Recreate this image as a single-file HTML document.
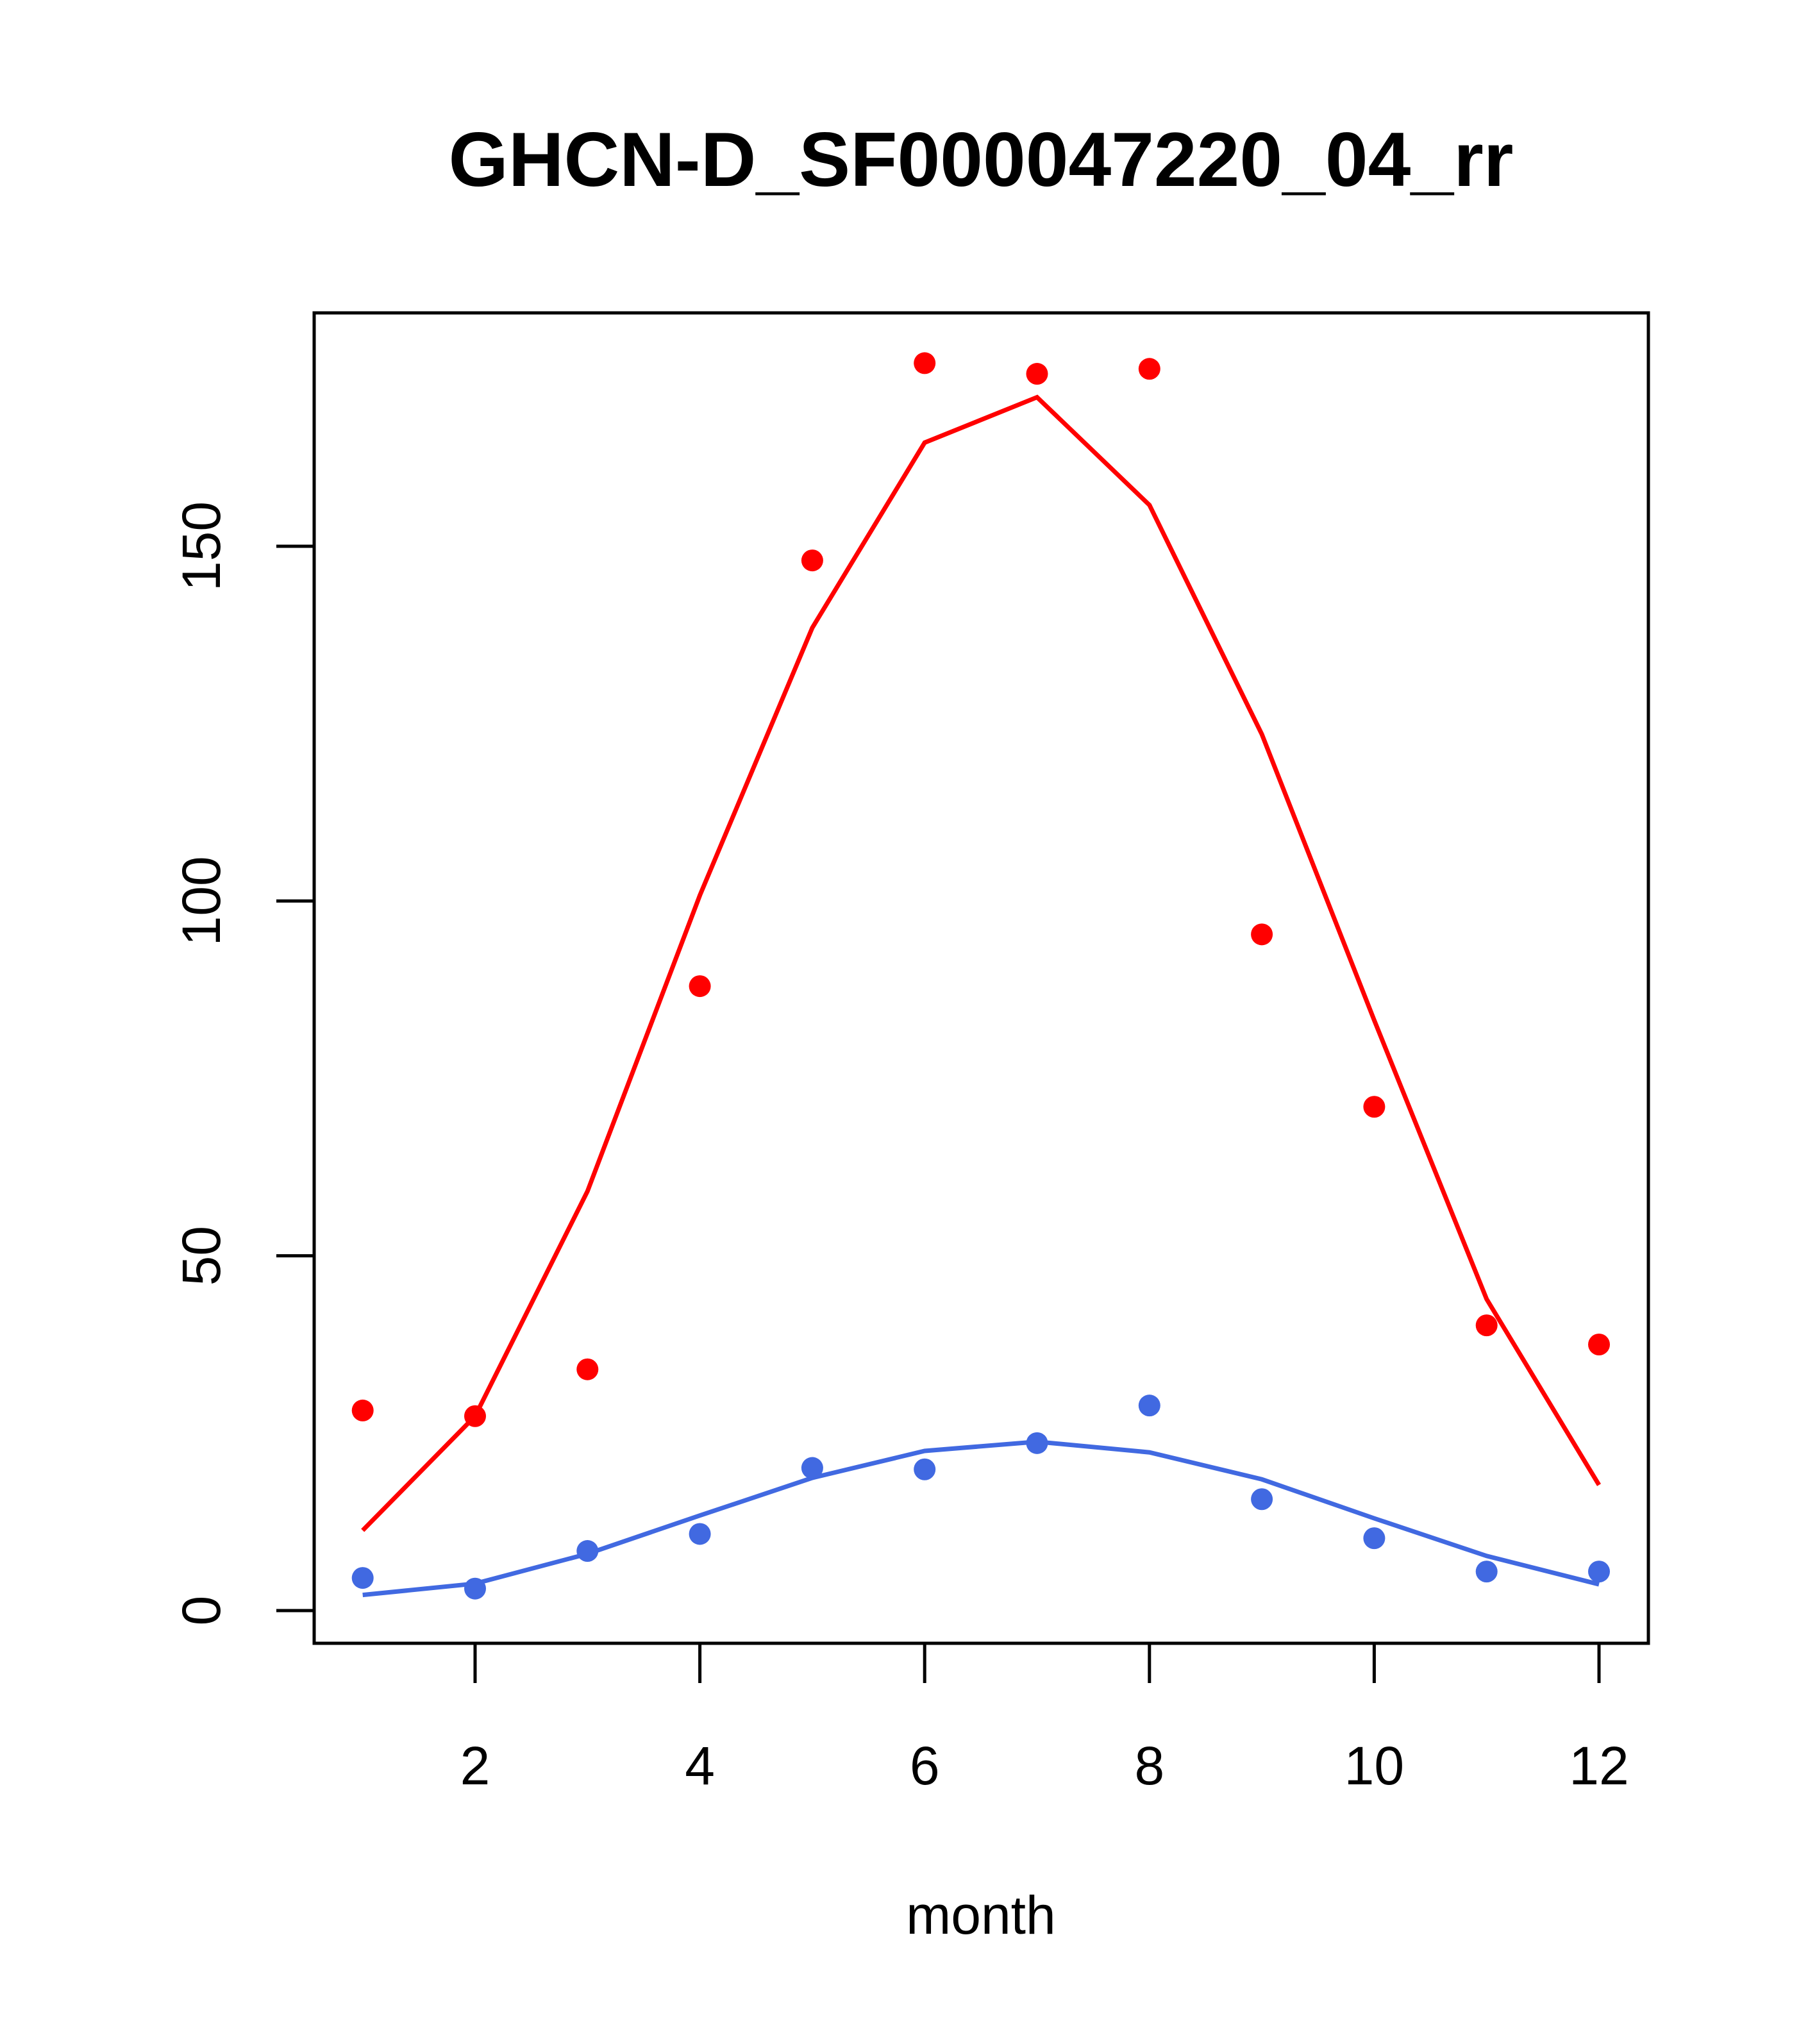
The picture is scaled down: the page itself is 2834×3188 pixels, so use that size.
<!DOCTYPE html>
<html><head><meta charset="utf-8"><style>
html,body{margin:0;padding:0;background:#fff}
svg{display:block}
text{font-family:"Liberation Sans",Arial,sans-serif}
</style></head><body>
<svg id="chart" width="2834" height="3188" viewBox="0 0 2834 3188" xmlns="http://www.w3.org/2000/svg">
<rect width="2834" height="3188" fill="#fff"/>
<text x="1530" y="290" font-size="120" font-weight="bold" text-anchor="middle">GHCN-D_SF000047220_04_rr</text>
<rect x="490" y="488" width="2081" height="2075" fill="none" stroke="#000" stroke-width="5"/>
<g id="xaxis"></g>
<g id="yaxis"></g>
<text x="1530" y="3016" font-size="84" text-anchor="middle">month</text>
<g id="series"></g>
</svg>
<script>
const months=[1,2,3,4,5,6,7,8,9,10,11,12];
const xTicks=[2,4,6,8,10,12];
const yTicks=[0,50,100,150];
const redPoints=[28.2,27.4,34.0,88.0,148.0,175.8,174.3,175.0,95.3,71.0,40.2,37.5];
const redLine=[11.3,27.4,59.1,100.8,138.5,164.6,171.0,155.8,123.5,83.2,43.9,17.7];
const bluePoints=[4.6,3.1,8.4,10.8,20.1,19.9,23.6,28.9,15.7,10.2,5.5,5.5];
const blueLine=[2.2,3.8,8.0,13.4,18.7,22.5,23.8,22.3,18.5,13.0,7.7,3.7];

const NS="http://www.w3.org/2000/svg";
function X(m){return 741+(m-2)*175.3;}
function Y(v){return 2512-v*11.067;}
function mk(tag,attrs,parent){const e=document.createElementNS(NS,tag);for(const k in attrs)e.setAttribute(k,attrs[k]);parent.appendChild(e);return e;}
const xa=document.getElementById('xaxis'),ya=document.getElementById('yaxis'),sg=document.getElementById('series');
mk('line',{x1:X(2),x2:X(12),y1:2563,y2:2563,stroke:'#000','stroke-width':5},xa);
xTicks.forEach(t=>{
  const l=mk('line',{x1:X(t),x2:X(t),y1:2563,y2:2625,stroke:'#000','stroke-width':5},xa);
  
  
  const tx=mk('text',{x:X(t),y:2783,'font-size':84,'text-anchor':'middle'},xa);
  tx.textContent=t;
  
  
});
mk('line',{x1:490,x2:490,y1:Y(0),y2:Y(150),stroke:'#000','stroke-width':5},ya);
yTicks.forEach(t=>{
  const l=mk('line',{x1:431,x2:490,y1:Y(t),y2:Y(t),stroke:'#000','stroke-width':5},ya);
  
  
  const tx=mk('text',{x:0,y:0,'font-size':84,'text-anchor':'middle',transform:`translate(343,${Y(t)}) rotate(-90)`},ya);
  tx.textContent=t;
  
  
});
function series(line,pts,color,name){
  const p=mk('polyline',{points:line.map((v,i)=>X(months[i])+','+Y(v)).join(' '),fill:'none',stroke:color,'stroke-width':7},sg);
  
  
  pts.forEach((v,i)=>{
    const c=mk('circle',{cx:X(months[i]),cy:Y(v),r:17,fill:color},sg);
    
    
  });
}
series(redLine,redPoints,'#ff0000','red');
series(blueLine,bluePoints,'#4169e1','blue');
</script>
</body></html>
